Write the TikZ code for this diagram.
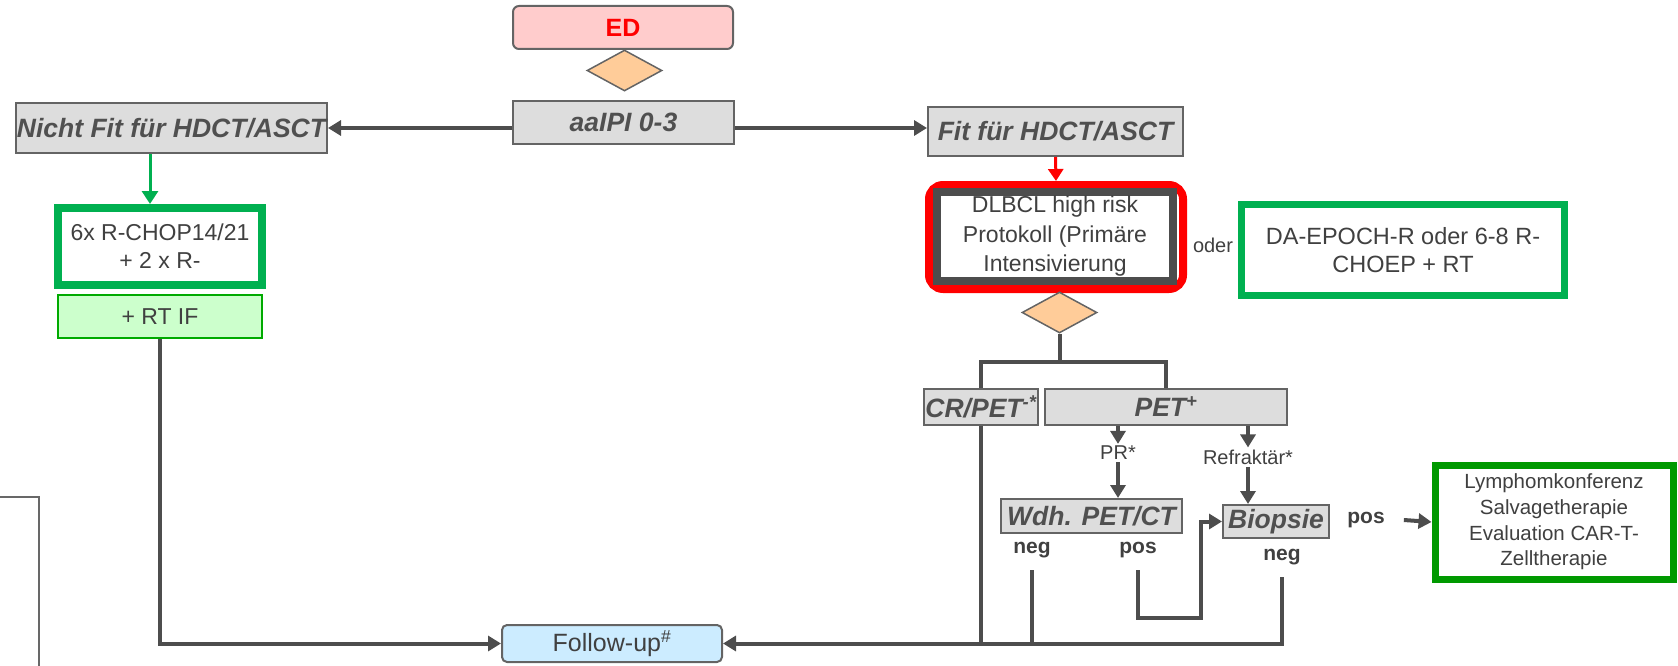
\documentclass[tikz,border=0pt]{standalone}
\usepackage{fontspec}
\setmainfont{Liberation Sans}
\usetikzlibrary{arrows.meta,shapes.geometric}
\definecolor{lnc}{RGB}{77,77,77}
\definecolor{txt}{RGB}{64,64,64}
\definecolor{gtxt}{RGB}{80,80,80}
\definecolor{boxfill}{RGB}{221,221,221}
\definecolor{boxline}{RGB}{100,100,100}
\definecolor{edfill}{RGB}{255,204,204}
\definecolor{diafill}{RGB}{255,204,153}
\definecolor{fufill}{RGB}{204,236,255}
\definecolor{rtfill}{RGB}{204,255,204}
\definecolor{rtline}{RGB}{0,170,0}
\definecolor{exgreen}{RGB}{0,176,80}
\definecolor{dkgreen}{RGB}{0,153,0}
\definecolor{redc}{RGB}{255,0,0}
\definecolor{framec}{RGB}{77,77,77}
\tikzset{
  conn/.style={draw=lnc, line width=4pt},
  arr/.style={conn, -{Triangle[length=13pt,width=15pt]}},
  garr/.style={draw=exgreen, line width=3pt, -{Triangle[length=13pt,width=16pt]}},
  rarr/.style={draw=redc, line width=3pt, -{Triangle[length=12pt,width=15pt]}},
  graybox/.style={draw=boxline, fill=boxfill, line width=2pt, inner sep=0pt,
    font=\fontsize{26.5}{30}\selectfont\bfseries\itshape, text=gtxt},
  decision/.style={diamond, draw=boxline, fill=diafill, line width=1.5pt, inner sep=0pt,
    minimum width=75pt, minimum height=41pt},
  lbl/.style={inner sep=2pt, text=txt, font=\fontsize{20}{24}\selectfont},
  blbl/.style={inner sep=2pt, text=txt, font=\fontsize{21}{25}\selectfont\bfseries},
  txtbox/.style={align=center, text=txt, fill=white, inner sep=0pt}
}
\begin{document}
\begin{tikzpicture}[x=1pt,y=-1pt]
\useasboundingbox (0,0) rectangle (1678,666);

% top
\node[draw=boxline, fill=edfill, rounded corners=6pt, line width=2pt,
  minimum width=220pt, minimum height=43pt,
  font=\fontsize{25}{29}\selectfont\bfseries, text=redc] (ed) at (623,27.5) {ED};
\node[decision] (d1) at (624.5,70.5) {};
\node[graybox, minimum width=221pt, minimum height=43pt] (aaipi) at (623.5,122.5) {aaIPI 0-3};

\node[graybox, minimum width=311pt, minimum height=50pt] (nfit) at (171.5,128) {Nicht Fit für HDCT/ASCT};
\node[graybox, minimum width=255pt, minimum height=49pt] (fit) at (1055.5,131.5) {Fit für HDCT/ASCT};

\draw[arr] (aaipi.west |- nfit.east) -- (nfit.east);
\draw[arr] (aaipi.east |- nfit.east) -- (fit.west |- nfit.east);

% left branch
\node[txtbox, draw=exgreen, line width=8pt, minimum width=204pt, minimum height=77pt,
  font=\fontsize{23}{28}\selectfont] (chop) at (160,246.5) {6x R-CHOP14/21\\+ 2 x R-};
\node[draw=rtline, fill=rtfill, line width=2pt, minimum width=204pt, minimum height=43pt,
  text=txt, font=\fontsize{23}{28}\selectfont] (rtif) at (160,316.5) {+ RT IF};
\draw[garr] ([xshift=-21.5pt]nfit.south) -- ([xshift=-10pt]chop.north);

% right branch
\node[draw=redc, line width=8pt, rounded corners=14pt, minimum width=254pt, minimum height=104pt] (redframe) at (1056,237) {};
\node[txtbox, draw=framec, line width=8pt, minimum width=236pt, minimum height=89pt,
  font=\fontsize{23}{29.5}\selectfont] (dlbcl) at (1055,236.5) {DLBCL high risk\\Protokoll (Primäre\\Intensivierung};
\draw[rarr] (fit.south) -- (redframe.north);

\node[lbl] (oder) at (1213,245) {oder};
\node[txtbox, draw=exgreen, line width=7pt, minimum width=323pt, minimum height=91pt,
  font=\fontsize{23.5}{28}\selectfont] (da) at (1403,250) {DA-EPOCH-R oder 6-8 R-\\CHOEP + RT};

\node[decision] (d2) at (1059.5,312.5) {};
\node[graybox, minimum width=114pt, minimum height=36pt] (cr) at (981,407) {CR/PET\textsuperscript{-*}};
\node[graybox, minimum width=242pt, minimum height=36pt] (pet) at (1166,407) {PET\textsuperscript{+}};
\draw[conn] (d2.south) -- ++(0,28) coordinate (br) -| (cr.north);
\draw[conn] (br) -| (pet.north);

\node[lbl] (pr) at (1118,453) {PR*};
\node[lbl] (ref) at (1248,457) {Refraktär*};
\draw[arr] (pet.south -| pr.north) -- (pr.north);
\draw[arr] (pet.south -| ref.north) -- (ref.north);

\node[graybox, minimum width=181pt, minimum height=34pt] (wdh) at (1091.5,516) {Wdh. PET/CT};
\node[graybox, minimum width=106pt, minimum height=33pt] (bio) at (1276,521.5) {Biopsie};
\draw[arr] (pr.south) -- (wdh.north -| pr.south);
\draw[arr] (ref.south) -- (bio.north -| ref.south);

\node[blbl] (wneg) at (1032,550) {neg};
\node[blbl] (wpos) at (1138,550) {pos};
\node[blbl] (bneg) at (1282,557) {neg};
\node[blbl] (bpos) at (1366,520) {pos};

\node[txtbox, draw=dkgreen, line width=7pt, minimum width=238pt, minimum height=114pt,
  font=\fontsize{20.5}{25.7}\selectfont] (lym) at (1554,522) {Lymphomkonferenz\\Salvagetherapie\\Evaluation CAR-T-\\Zelltherapie};
\draw[arr] ([xshift=17pt]bpos.east) -- (lym.west);

% follow-up
\node[draw=boxline, fill=fufill, rounded corners=5pt, line width=2pt,
  minimum width=220pt, minimum height=37pt, text=txt,
  font=\fontsize{25}{30}\selectfont] (fu) at (612,643.5) {Follow-up\textsuperscript{\#}};

\coordinate (pbend) at (1201,618);
\draw[conn] (cr.south) -- (cr.south |- fu.east);
\draw[conn] ([yshift=-10pt]wneg.south) -- (wneg.south |- fu.east);
\draw[arr] ([yshift=-10pt]wpos.south) |- (pbend) |- (bio.west);
\draw[arr] ([yshift=-10pt]bneg.south) |- (fu.east);
\draw[arr] (rtif.south) |- (fu.west);

% partial shape at bottom left
\draw[draw=lnc!85!white, line width=2pt] (0,497) -- (39,497) -- (39,667);
\end{tikzpicture}
\end{document}
